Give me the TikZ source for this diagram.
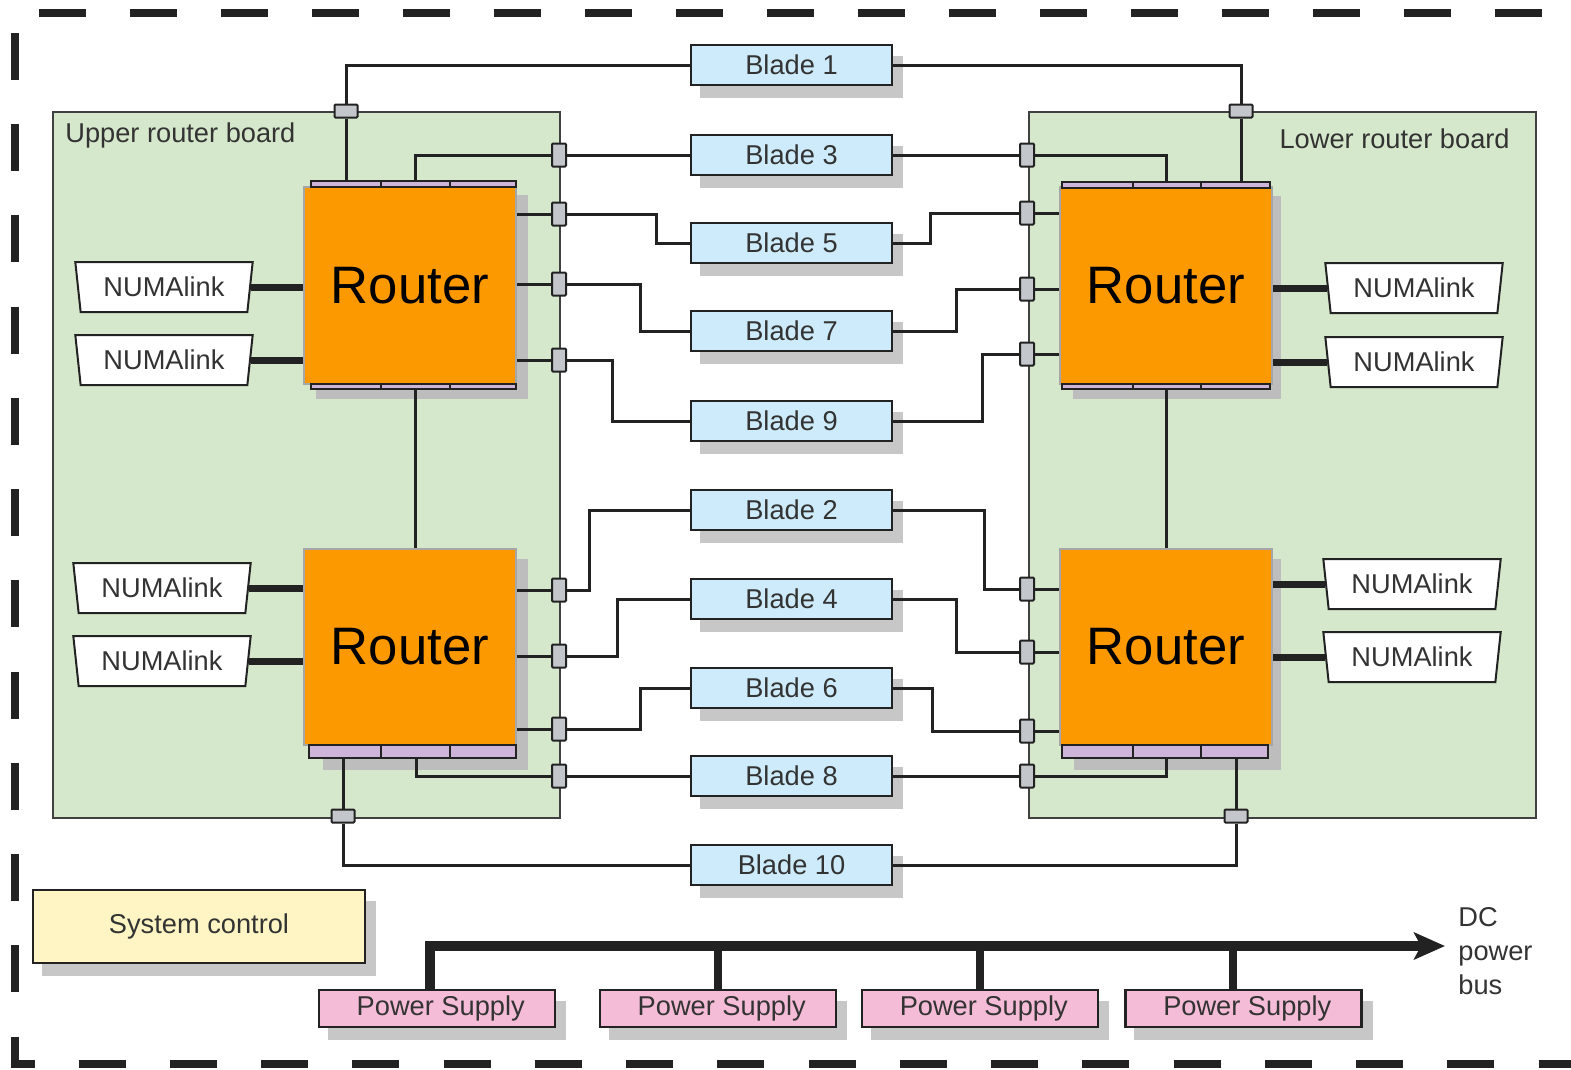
\documentclass[tikz,border=0pt]{standalone}
\usepackage{fontspec}
\setmainfont{Liberation Sans}
\usetikzlibrary{shapes.geometric,arrows.meta,calc}

\definecolor{boardgreen}{HTML}{D5E8CB}
\definecolor{routerorange}{HTML}{FD9900}
\definecolor{bladeblue}{HTML}{CDEBFA}
\definecolor{psupink}{HTML}{F4BCD7}
\definecolor{ctrlyellow}{HTML}{FFF5C4}
\definecolor{portpurple}{HTML}{CFB4DA}
\definecolor{portgray}{HTML}{C3C6CA}
\definecolor{shadegray}{HTML}{BDBDBD}
\definecolor{wirec}{HTML}{222222}
\definecolor{txt}{HTML}{333333}

\pgfdeclarelayer{boards}
\pgfdeclarelayer{shade}
\pgfdeclarelayer{wires}
\pgfsetlayers{boards,shade,wires,main}

% purple port strip along a router edge, with two dividers
\newcommand\portstrip[6]{%
  \draw[strip] (#1,#2) rectangle (#3,#4);
  \draw[stripline] (#5,#2) -- (#5,#4) (#6,#2) -- (#6,#4);}

\begin{document}
\begin{tikzpicture}[x=0.02cm,y=-0.02cm,
  lbl/.style={font=\fontsize{15.5}{18}\selectfont, text=txt},
  board/.style={rectangle, fill=boardgreen, draw=black!75, line width=0.04cm,
    minimum width=10.14cm, minimum height=14.12cm, inner sep=0, anchor=north west},
  router/.style={rectangle, fill=routerorange, draw=black!35, line width=0.04cm,
    minimum width=4.24cm, minimum height=3.94cm, inner sep=0,
    font=\fontsize{30}{34}\selectfont, text=black},
  blade/.style={lbl, rectangle, fill=bladeblue, draw=wirec, line width=0.045cm,
    minimum width=4.02cm, minimum height=0.8cm, inner sep=0},
  psu/.style={lbl, rectangle, fill=psupink, draw=wirec, line width=0.045cm,
    minimum width=4.72cm, minimum height=0.74cm, inner sep=0},
  ctrl/.style={lbl, rectangle, fill=ctrlyellow, draw=wirec, line width=0.045cm,
    minimum width=6.64cm, minimum height=1.46cm, inner sep=0},
  numa/.style={lbl, trapezium, trapezium stretches=true, trapezium angle=79,
    shape border rotate=180, fill=white, draw=wirec, line width=0.04cm,
    minimum width=3.56cm, minimum height=1cm, inner sep=0},
  vport/.style={rectangle, fill=portgray, draw=wirec, line width=0.04cm,
    minimum width=0.28cm, minimum height=0.46cm, inner sep=0, rounded corners=0.02cm},
  hport/.style={rectangle, fill=portgray, draw=wirec, line width=0.04cm,
    minimum width=0.46cm, minimum height=0.26cm, inner sep=0, rounded corners=0.02cm},
  strip/.style={fill=portpurple, draw=wirec, line width=0.04cm},
  stripline/.style={draw=wirec, line width=0.03cm},
  wire/.style={draw=wirec, line width=0.06cm},
  numalinkwire/.style={draw=wirec, line width=0.14cm},
  bus/.style={draw=wirec, line width=0.19cm},
  busstub/.style={draw=wirec, line width=0.16cm},
  boxshade/.style={fill=shadegray!85},
  frame/.style={draw=wirec, line width=0.16cm},
]
\useasboundingbox (0,0) rectangle (1571,1069);

% dashed enclosure: top edge, then left and bottom edges with an L corner
\draw[frame, dash pattern=on 0.94cm off 0.88cm] (39,13) -- (1542,13);
\draw[frame, dash pattern=on 0.94cm off 0.885cm] (15,33) -- (15,1064) -- (1571,1064);

% router boards
\begin{pgfonlayer}{boards}
  \node[board] (ubrd) at (52,111) {};
  \node[board] (lbrd) at (1028,111) {};
\end{pgfonlayer}
\node[lbl, anchor=west, inner sep=0] (ulabel) at (65,135) {Upper router board};
\node[lbl, anchor=east, inner sep=0] (llabel) at (1510,139) {Lower router board};

% routers
\node[router] (rUL) at (410,285.5) {Router};
\node[router] (rLL) at (410,647) {Router};
\node[router] (rUR) at (1166,285.5) {Router};
\node[router] (rLR) at (1166,647) {Router};

\begin{pgfonlayer}{shade}
  \fill[shadegray] (316,195) rectangle (528,399);
  \fill[shadegray] (323,559) rectangle (528,770);
  \fill[shadegray] (1073,196) rectangle (1281,399);
  \fill[shadegray] (1074,559) rectangle (1281,770);
\end{pgfonlayer}

\portstrip{311}{181}{516}{187}{381}{450}
\portstrip{311}{384}{516}{389}{381}{450}
\portstrip{309}{745}{516}{758}{381}{450}
\portstrip{1062}{182}{1270}{188}{1133}{1201}
\portstrip{1062}{384}{1270}{389}{1133}{1201}
\portstrip{1062}{745}{1268}{758}{1133}{1201}

% blades
\node[blade] (b1) at (791.5,65) {Blade 1};
\node[blade] (b3) at (791.5,155) {Blade 3};
\node[blade] (b5) at (791.5,243) {Blade 5};
\node[blade] (b7) at (791.5,331) {Blade 7};
\node[blade] (b9) at (791.5,421) {Blade 9};
\node[blade] (b2) at (791.5,510) {Blade 2};
\node[blade] (b4) at (791.5,599) {Blade 4};
\node[blade] (b6) at (791.5,688) {Blade 6};
\node[blade] (b8) at (791.5,776) {Blade 8};
\node[blade] (b10) at (791.5,865) {Blade 10};

% system control and power supplies
\node[ctrl] (sys) at (199,926.5) {System control};
\node[psu] (ps1) at (437,1008.5) {\hspace{0.15cm}Power Supply};
\node[psu] (ps2) at (718,1008.5) {\hspace{0.15cm}Power Supply};
\node[psu] (ps3) at (980,1008.5) {\hspace{0.15cm}Power Supply};
\node[psu] (ps4) at (1243.5,1008.5) {\hspace{0.15cm}Power Supply};

\begin{pgfonlayer}{shade}
  \foreach \n in {b1,b2,b3,b4,b5,b6,b7,b8,b9,b10,sys,ps1,ps2,ps3,ps4}
    \fill[boxshade] ($(\n.north west)+(10,12)$) rectangle ($(\n.south east)+(10,12)$);
\end{pgfonlayer}

% NUMAlink ports
\node[numa] (n1) at (164,287) {NUMAlink};
\node[numa] (n2) at (164,360) {NUMAlink};
\node[numa] (n3) at (162,588) {NUMAlink};
\node[numa] (n4) at (162,661) {NUMAlink};
\node[numa] (n5) at (1414,288) {NUMAlink};
\node[numa] (n6) at (1414,362) {NUMAlink};
\node[numa] (n7) at (1412,584) {NUMAlink};
\node[numa] (n8) at (1412,657) {NUMAlink};

% board edge connectors
\node[vport] (cL1) at (559,155) {};
\node[vport] (cL2) at (559,214) {};
\node[vport] (cL3) at (559,284) {};
\node[vport] (cL4) at (559,360) {};
\node[vport] (cL5) at (559,590) {};
\node[vport] (cL6) at (559,656) {};
\node[vport] (cL7) at (559,729) {};
\node[vport] (cL8) at (559,776) {};
\node[vport] (cR1) at (1027,155) {};
\node[vport] (cR2) at (1027,213) {};
\node[vport] (cR3) at (1027,289) {};
\node[vport] (cR4) at (1027,354) {};
\node[vport] (cR5) at (1027,589) {};
\node[vport] (cR6) at (1027,652) {};
\node[vport] (cR7) at (1027,731) {};
\node[vport] (cR8) at (1027,776) {};
\node[hport] (cUT) at (346,111) {};
\node[hport] (cRT) at (1241,111) {};
\node[hport] (cUB) at (343,816) {};
\node[hport] (cRB) at (1236,816) {};

\begin{pgfonlayer}{wires}
  % blades to the upper router board
  \draw[wire] (b1.west) -| (cUT.north);
  \draw[wire] (cUT.south) -- (cUT.south |- rUL.north);
  \draw[wire] (b3.west) -- (cL1.center) -| ($(rUL.north)+(5,0)$);
  \draw[wire] (b5.west) -- ++(-33,0) |- (cL2.center) -- (cL2.center -| rUL.west);
  \draw[wire] (b7.west) -- ++(-49,0) |- (cL3.center) -- (cL3.center -| rUL.west);
  \draw[wire] (b9.west) -- ++(-77,0) |- (cL4.center) -- (cL4.center -| rUL.west);
  \draw[wire] (b2.west) -- ++(-100,0) |- (cL5.center) -- (cL5.center -| rLL.west);
  \draw[wire] (b4.west) -- ++(-72,0) |- (cL6.center) -- (cL6.center -| rLL.west);
  \draw[wire] (b6.west) -- ++(-49,0) |- (cL7.center) -- (cL7.center -| rLL.west);
  \draw[wire] (b8.west) -- (cL8.center) -| ($(rLL.south)+(6,0)$);
  \draw[wire] (b10.west) -| (cUB.south);
  \draw[wire] (cUB.north) -- (cUB.north |- rLL.south);
  % blades to the lower router board
  \draw[wire] (b1.east) -| (cRT.north);
  \draw[wire] (cRT.south) -- (cRT.south |- rUR.north);
  \draw[wire] (b3.east) -- (cR1.center) -| (rUR.north);
  \draw[wire] (b5.east) -- ++(37,0) |- (cR2.center) -- (cR2.center -| rUR.west);
  \draw[wire] (b7.east) -- ++(63,0) |- (cR3.center) -- (cR3.center -| rUR.west);
  \draw[wire] (b9.east) -- ++(89,0) |- (cR4.center) -- (cR4.center -| rUR.west);
  \draw[wire] (b2.east) -- ++(91,0) |- (cR5.center) -- (cR5.center -| rLR.west);
  \draw[wire] (b4.east) -- ++(63,0) |- (cR6.center) -- (cR6.center -| rLR.west);
  \draw[wire] (b6.east) -- ++(39,0) |- (cR7.center) -- (cR7.center -| rLR.west);
  \draw[wire] (b8.east) -- (cR8.center) -| (rLR.south);
  \draw[wire] (b10.east) -| (cRB.south);
  \draw[wire] (cRB.north) -- (cRB.north |- rLR.south);
  % router to router
  \draw[wire] ($(rUL.south)+(5,0)$) -- ($(rLL.north)+(5,0)$);
  \draw[wire] (rUR.south) -- (rLR.north);
  % NUMAlink cables
  \draw[numalinkwire] (n1.east) -- (n1.east -| rUL.west);
  \draw[numalinkwire] (n2.east) -- (n2.east -| rUL.west);
  \draw[numalinkwire] (n3.east) -- (n3.east -| rLL.west);
  \draw[numalinkwire] (n4.east) -- (n4.east -| rLL.west);
  \draw[numalinkwire] (n5.west) -- (n5.west -| rUR.east);
  \draw[numalinkwire] (n6.west) -- (n6.west -| rUR.east);
  \draw[numalinkwire] (n7.west) -- (n7.west -| rLR.east);
  \draw[numalinkwire] (n8.west) -- (n8.west -| rLR.east);
  % DC power bus
  \coordinate (busend) at (1445,946);
  \draw[bus, -{Stealth[length=0.62cm, width=0.54cm, inset=0.14cm]}]
    ($(ps1.north)+(-7,0)$) |- (busend);
  \draw[busstub] (ps2.north) -- (ps2.north |- busend);
  \draw[busstub] (ps3.north) -- (ps3.north |- busend);
  \draw[busstub] ($(ps4.north)+(-11,0)$) -- ($(ps4.north |- busend)+(-11,0)$);
\end{pgfonlayer}

\node[lbl, anchor=west, align=left, inner sep=0, font=\fontsize{15.5}{19.4}\selectfont]
  (dcbus) at (1458,951) {DC\\power\\bus};

\end{tikzpicture}
\end{document}
